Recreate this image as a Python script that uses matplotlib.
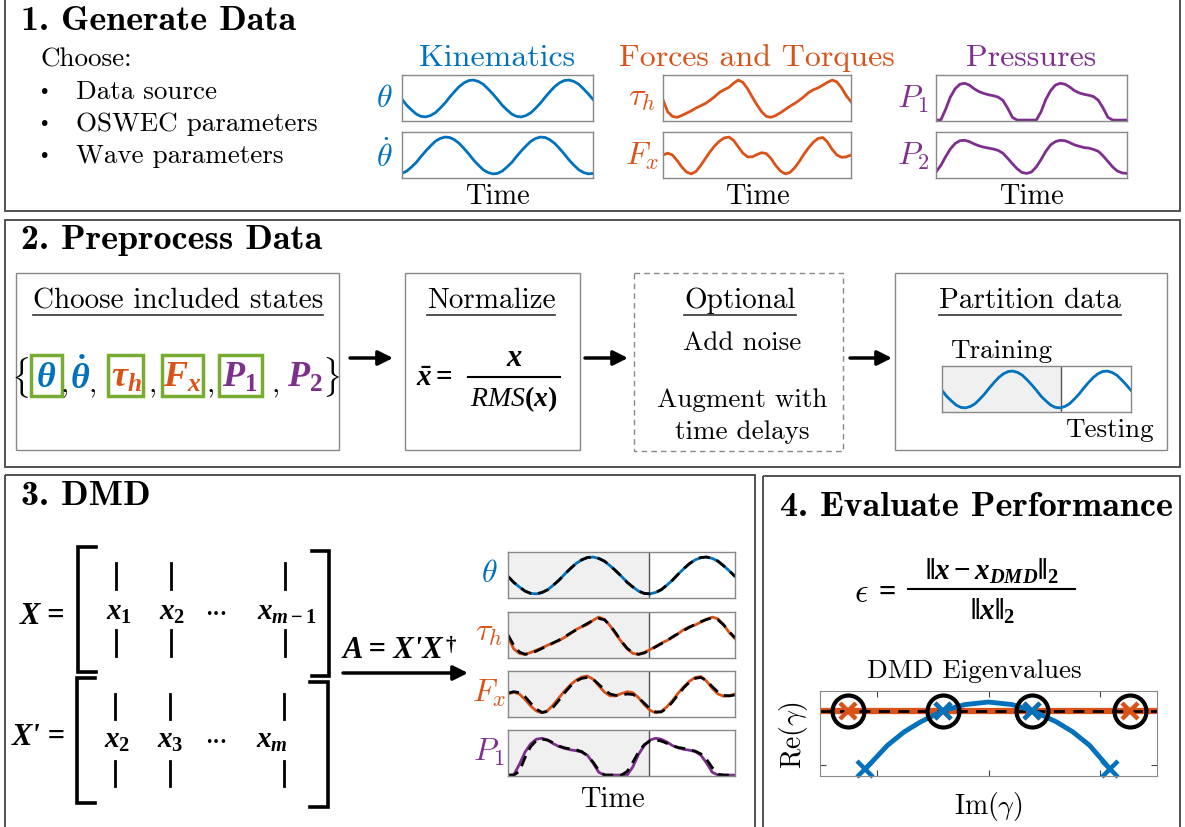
import numpy as np
import matplotlib.pyplot as plt
from matplotlib.patches import Rectangle

plt.rcParams['mathtext.fontset'] = 'cm'
# "custom" math is used for the bold-italic formulas
plt.rcParams['mathtext.it'] = 'Liberation Serif:italic:bold'
plt.rcParams['mathtext.rm'] = 'Liberation Serif:bold'
plt.rcParams['mathtext.bf'] = 'Liberation Serif:bold'
plt.rcParams['mathtext.cal'] = 'Liberation Serif:italic'
plt.rcParams['mathtext.sf'] = 'DejaVu Sans:bold'

BLUE = '#0072BD'
ORANGE = '#D95319'
PURPLE = '#7E2F8E'
GREEN = '#77AC30'

# signals (41 samples across each box, 0..1 of box height)
theta = [0.47, 0.34, 0.24, 0.15, 0.10, 0.09, 0.12, 0.18, 0.28, 0.39, 0.52, 0.64, 0.75, 0.83, 0.88,
         0.89, 0.86, 0.80, 0.70, 0.59, 0.47, 0.34, 0.24, 0.15, 0.10, 0.09, 0.12, 0.18, 0.28, 0.39,
         0.52, 0.64, 0.75, 0.83, 0.88, 0.89, 0.86, 0.80, 0.70, 0.59, 0.47]
theta_dot = [0.10, 0.15, 0.24, 0.34, 0.47, 0.59, 0.70, 0.80, 0.86, 0.89, 0.88, 0.83, 0.75, 0.64, 0.52,
             0.39, 0.28, 0.18, 0.12, 0.09, 0.10, 0.15, 0.24, 0.34, 0.47, 0.59, 0.70, 0.80, 0.86, 0.89,
             0.88, 0.83, 0.75, 0.64, 0.52, 0.39, 0.28, 0.18, 0.12, 0.09, 0.10]
tau_h = [0.46, 0.20, 0.10, 0.08, 0.12, 0.17, 0.22, 0.28, 0.33, 0.38, 0.45, 0.53, 0.62, 0.68, 0.73,
         0.82, 0.89, 0.84, 0.70, 0.52, 0.35, 0.20, 0.10, 0.08, 0.12, 0.18, 0.25, 0.32, 0.38, 0.45,
         0.53, 0.62, 0.68, 0.72, 0.78, 0.84, 0.89, 0.85, 0.72, 0.55, 0.42]
f_x = [0.50, 0.54, 0.50, 0.38, 0.24, 0.13, 0.09, 0.14, 0.27, 0.42, 0.57, 0.70, 0.80, 0.87, 0.89,
       0.82, 0.68, 0.54, 0.46, 0.46, 0.51, 0.55, 0.53, 0.42, 0.27, 0.15, 0.09, 0.12, 0.22, 0.36,
       0.52, 0.66, 0.78, 0.86, 0.88, 0.78, 0.62, 0.50, 0.45, 0.46, 0.50]
p_1 = [0.02, 0.02, 0.25, 0.52, 0.70, 0.80, 0.82, 0.78, 0.70, 0.64, 0.60, 0.57, 0.55, 0.52, 0.45,
       0.28, 0.08, 0.02, 0.02, 0.02, 0.02, 0.02, 0.20, 0.47, 0.66, 0.78, 0.82, 0.80, 0.74, 0.66,
       0.61, 0.58, 0.56, 0.53, 0.45, 0.28, 0.08, 0.02, 0.02, 0.02, 0.02]
p_2 = [0.13, 0.27, 0.46, 0.63, 0.75, 0.81, 0.82, 0.79, 0.74, 0.70, 0.67, 0.65, 0.63, 0.60, 0.54,
       0.43, 0.31, 0.20, 0.12, 0.10, 0.13, 0.24, 0.40, 0.58, 0.72, 0.79, 0.82, 0.81, 0.77, 0.72,
       0.69, 0.66, 0.65, 0.62, 0.58, 0.48, 0.36, 0.24, 0.15, 0.11, 0.10]

# DMD reconstructions (dashed)
tau_h_dmd = [0.50, 0.28, 0.13, 0.08, 0.10, 0.15, 0.21, 0.27, 0.33, 0.39, 0.46, 0.54, 0.61, 0.68, 0.75,
             0.82, 0.86, 0.83, 0.71, 0.54, 0.36, 0.21, 0.11, 0.08, 0.11, 0.17, 0.24, 0.31, 0.38, 0.46,
             0.53, 0.60, 0.67, 0.73, 0.79, 0.84, 0.87, 0.83, 0.72, 0.57, 0.44]
f_x_dmd = [0.52, 0.55, 0.53, 0.44, 0.30, 0.17, 0.10, 0.12, 0.22, 0.37, 0.53, 0.67, 0.78, 0.84, 0.86,
           0.82, 0.71, 0.59, 0.50, 0.47, 0.48, 0.50, 0.49, 0.42, 0.30, 0.18, 0.11, 0.11, 0.19, 0.33,
           0.49, 0.64, 0.76, 0.84, 0.86, 0.79, 0.66, 0.54, 0.47, 0.46, 0.48]
p_1_dmd = [0.02, 0.02, 0.10, 0.40, 0.64, 0.77, 0.80, 0.78, 0.72, 0.65, 0.61, 0.59, 0.57, 0.53, 0.44,
           0.30, 0.12, 0.02, 0.02, 0.02, 0.02, 0.10, 0.30, 0.52, 0.68, 0.76, 0.78, 0.76, 0.71, 0.66,
           0.62, 0.60, 0.57, 0.54, 0.48, 0.36, 0.18, 0.04, 0.02, 0.02, 0.02]
t = np.linspace(0, 1, len(theta))
train_split = 0.63
dmd_split = 0.62

# DMD eigenvalues (box fractions)
eig_true_im = [0.084, 0.366, 0.629, 0.921]
eig_true_re = [0.77, 0.77, 0.77, 0.77]
eig_blue_im = [0.134, 0.366, 0.629, 0.861]
eig_blue_re = [0.08, 0.77, 0.77, 0.08]
blue_curve_im = [0.134, 0.2, 0.25, 0.3, 0.366, 0.43, 0.5, 0.57, 0.629, 0.7, 0.75, 0.8, 0.861]
blue_curve_re = [0.08, 0.36, 0.52, 0.64, 0.77, 0.84, 0.87, 0.84, 0.77, 0.64, 0.52, 0.36, 0.08]

W, H = 1185, 828
fig = plt.figure(figsize=(W / 100, H / 100), dpi=100)
ax = fig.add_axes([0, 0, 1, 1])
ax.set_xlim(0, W)
ax.set_ylim(H, 0)
ax.axis('off')


def txt(x, y, s, size=19.5, color='k', ha='center', va='center', font='cmr10', **kw):
    return ax.text(x, y, s, fontsize=size, color=color, ha=ha, va=va, fontname=font, **kw)


def mtxt(x, y, s, size=19, color='k', ha='center', va='center'):
    return ax.text(x, y, s, fontsize=size, color=color, ha=ha, va=va, math_fontfamily='custom')


def bitxt(x, y, s, size=22, ha='left'):
    # bold italic plain text (used where a straight prime is wanted)
    return ax.text(x, y, s, fontsize=size, ha=ha, va='center', fontfamily='Liberation Serif',
                   fontweight='bold', fontstyle='italic')


def box(x0, y0, x1, y1, color='#888888', lw=1.0, ls='-'):
    ax.add_patch(Rectangle((x0, y0), x1 - x0, y1 - y0, fill=False, ec=color, lw=lw, ls=ls))


def arrow(x0, x1, y):
    ax.annotate('', xy=(x1, y), xytext=(x0, y),
                arrowprops=dict(arrowstyle='-|>', lw=2.5, color='k', mutation_scale=22,
                                shrinkA=0, shrinkB=0))


def sig_axes(x0, y0, x1, y1):
    a = fig.add_axes([x0 / W, 1 - y1 / H, (x1 - x0) / W, (y1 - y0) / H])
    a.set_xlim(0, 1)
    a.set_ylim(0, 1)
    a.set_xticks([])
    a.set_yticks([])
    for s in a.spines.values():
        s.set_color('#888888')
        s.set_linewidth(1)
    return a


# panel frames
for x0, y0, x1, y1 in [(5, -5, 1180, 212), (5, 221, 1180, 468), (5, 476, 755, 840), (763, 477, 1180, 840)]:
    box(x0, y0, x1, y1, color='#444444', lw=1.3)

# ---- 1. Generate Data
txt(21, 22, '1. Generate Data', size=26, ha='left', font='cmb10')
txt(41, 60, 'Choose:', ha='left')
for yy, s in zip([92, 124, 156], ['Data source', 'OSWEC parameters', 'Wave parameters']):
    ax.text(44, yy, '\u2022', fontsize=14, ha='center', va='center', fontname='DejaVu Sans')
    txt(76, yy, s, ha='left')

groups = [('Kinematics', BLUE, 402, 593, [r'$\theta$', r'$\dot{\theta}$'], [theta, theta_dot], 384),
          ('Forces and Torques', ORANGE, 663, 851, [r'$\tau_h$', r'$F_x$'], [tau_h, f_x], 642),
          ('Pressures', PURPLE, 936, 1127, [r'$P_1$', r'$P_2$'], [p_1, p_2], 913)]
for name, col, x0, x1, labels, series, lx in groups:
    txt((x0 + x1) / 2, 58, name, size=23, color=col)
    for (y0, y1), lab, ys in zip([(76, 122), (133, 179)], labels, series):
        a = sig_axes(x0, y0, x1, y1)
        a.plot(t, ys, color=col, lw=2)
        txt(lx, (y0 + y1) / 2, lab, size=23, color=col)
    txt((x0 + x1) / 2, 197, 'Time', size=20.5)

# ---- 2. Preprocess Data
txt(21, 241, '2. Preprocess Data', size=26, ha='left', font='cmb10')
box(16, 274, 339, 451)
box(405, 274, 580, 451)
box(634, 274, 843, 452, ls=(0, (4, 3)))
box(895, 274, 1167, 451)
underlined = []
underlined.append(txt(178, 301, 'Choose included states', size=21))
underlined.append(txt(491, 301, 'Normalize', size=21))
underlined.append(txt(740, 301, 'Optional', size=21))
underlined.append(txt(1030, 301, 'Partition data', size=21))

states = [(20, r'$\{$', 'k'), (46, r'$\theta$', BLUE), (65, ',', 'k'), (80, r'$\dot{\theta}$', BLUE),
          (93, ',', 'k'), (126, r'$\tau_h$', ORANGE), (153, ',', 'k'), (182, r'$F_x$', ORANGE),
          (211, ',', 'k'), (240, r'$P_1$', PURPLE), (276, ',', 'k'), (305, r'$P_2$', PURPLE),
          (331, r'$\}$', 'k')]
for xx, s, col in states:
    if s == ',':
        txt(xx, 384, s, size=21, color=col)
    elif col == 'k':
        txt(xx, 377, s, size=24, color=col)
    else:
        mtxt(xx, 377, s, size=26, color=col)
for x0, x1 in [(31, 62), (108, 143), (162, 203), (219, 262)]:
    box(x0, 356, x1, 397, color=GREEN, lw=2.5)

arrow(350, 393, 359)
arrow(585, 628, 359)
arrow(850, 892, 359)

# normalize formula
mtxt(416, 378, r'$\bar{x} =$', size=21, ha='left')
mtxt(514, 358, r'$x$', size=22)
ax.plot([468, 560], [378, 378], color='k', lw=1.5)
mtxt(514, 399, r'$\mathcal{RMS}(x)$', size=20)

txt(742, 343, 'Add noise')
txt(742, 400, 'Augment with')
txt(742, 432, 'time delays')

txt(950, 351, 'Training', ha='left')
txt(1154, 430, 'Testing', ha='right')
a = sig_axes(942, 367, 1131, 413)
a.axvspan(0, train_split, color='#f0f0f0', zorder=0)
a.axvline(train_split, color='#555555', lw=1)
a.plot(t, theta, color=BLUE, lw=2)

# ---- 3. DMD
txt(21, 497, '3. DMD', size=26, ha='left', font='cmb10')


def bracket(x, xs, y0, y1):
    ax.plot([xs, x, x, xs], [y0, y0, y1, y1], color='k', lw=2.6, solid_joinstyle='miter')


bracket(78, 96, 548, 673)
bracket(329, 312, 552, 677)
bracket(77, 95, 679, 804)
bracket(328, 310, 683, 808)
for xx in [116, 171, 285]:
    ax.plot([xx, xx], [564, 590], color='k', lw=2)
    ax.plot([xx, xx], [631, 657], color='k', lw=2)
for xx in [115, 170, 284]:
    ax.plot([xx, xx], [695, 720], color='k', lw=2)
    ax.plot([xx, xx], [762, 787], color='k', lw=2)

bitxt(20, 617, 'X =')
bitxt(12, 738, "X' =")
for xx, s in [(119, r'$x_1$'), (172, r'$x_2$'), (287, r'$x_{m-1}$')]:
    mtxt(xx, 612, s, size=21)
for xx, s in [(117, r'$x_2$'), (170, r'$x_3$'), (272, r'$x_m$')]:
    mtxt(xx, 740, s, size=21)
for yy in [612, 740]:
    ax.text(216, yy + 3, '\u2022\u2022\u2022', fontsize=9, ha='center', va='center', fontname='DejaVu Sans')

a_lab = bitxt(343, 651, "A = X'X")
ax.annotate('\u2020', xy=(1.02, 1.0), xycoords=a_lab, ha='left', va='top', fontsize=15,
            fontfamily='Liberation Serif', fontweight='bold')
arrow(343, 468, 674)

dmd_rows = [(r'$\theta$', BLUE, theta, theta, 553, 599),
            (r'$\tau_h$', ORANGE, tau_h, tau_h_dmd, 613, 659),
            (r'$F_x$', ORANGE, f_x, f_x_dmd, 672, 718),
            (r'$P_1$', PURPLE, p_1, p_1_dmd, 731, 777)]
for lab, col, ys, yd, y0, y1 in dmd_rows:
    a = sig_axes(508, y0, 735, y1)
    a.axvspan(0, dmd_split, color='#f0f0f0', zorder=0)
    a.axvline(dmd_split, color='#555555', lw=1)
    a.plot(t, ys, color=col, lw=2)
    a.plot(t, yd, color='k', lw=2, ls=(0, (4, 2.5)))
    txt(489, (y0 + y1) / 2 - 2, lab, size=23, color=col)
txt(612, 800, 'Time', size=20.5)

# ---- 4. Evaluate Performance
txt(780, 508, '4. Evaluate Performance', size=26, ha='left', font='cmb10')
ax.text(861, 593, r'$\epsilon$', fontsize=24, ha='center', va='center')
mtxt(885, 591, r'$=$', size=22)
mtxt(992, 571, r'$\Vert x - x_{DMD}\Vert_2$', size=21)
ax.plot([908, 1075], [590, 590], color='k', lw=1.5)
mtxt(993, 611, r'$\Vert x\Vert_2$', size=21)

txt(974, 671, 'DMD Eigenvalues')
e = fig.add_axes([820 / W, 1 - 777 / H, 337 / W, 85 / H])
e.set_xlim(0, 1)
e.set_ylim(0, 1)
e.set_xticks([0.168, 0.5, 0.832])
e.set_yticks([0.126, 0.77])
e.set_xticklabels([])
e.set_yticklabels([])
e.tick_params(direction='in', length=4, top=True, right=True, color='#444444')
for s in e.spines.values():
    s.set_color('#888888')
e.axhline(0.77, color=ORANGE, lw=4.5)
e.axhline(0.77, color='k', lw=2, ls=(0, (4, 3)))
e.plot(blue_curve_im, blue_curve_re, color=BLUE, lw=3.5, clip_on=False)
e.plot(eig_true_im, eig_true_re, 'o', ms=23, mfc='none', mec='k', mew=3, clip_on=False)
e.plot(eig_true_im, eig_true_re, 'x', ms=11, mec=ORANGE, mew=3.2, clip_on=False)
e.plot(eig_blue_im, eig_blue_re, 'x', ms=11, mec=BLUE, mew=3.2, clip_on=False)
e.set_ylabel(r'Re($\gamma$)', fontsize=20, fontname='cmr10', labelpad=4)
e.set_xlabel(r'Im($\gamma$)', fontsize=20, fontname='cmr10', labelpad=6)

# underline the box titles in panel 2
fig.canvas.draw()
inv = ax.transData.inverted()
for tt in underlined:
    bb = tt.get_window_extent()
    (xa, ya), (xb, yb) = inv.transform([[bb.x0, bb.y0], [bb.x1, bb.y1]])
    ax.plot([xa, xb], [ya + 2, ya + 2], color='#333333', lw=1.2)

fig.savefig('out.png', dpi=100)
